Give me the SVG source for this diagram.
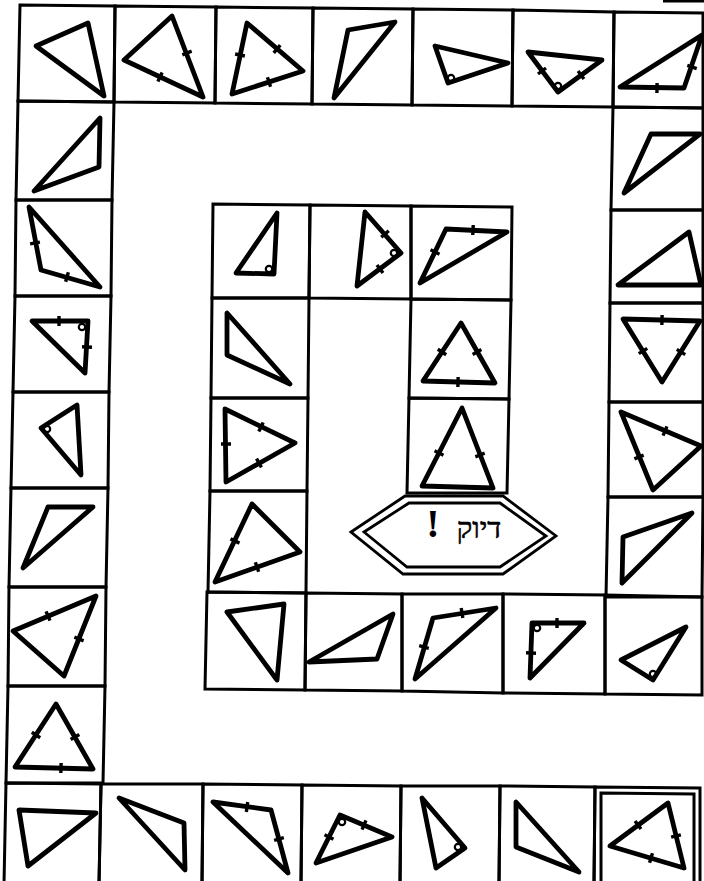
<svg xmlns="http://www.w3.org/2000/svg" width="704" height="881" viewBox="0 0 704 881">
<style>
.box{fill:none;stroke:#000;stroke-width:3;stroke-linejoin:miter}
.tri{fill:none;stroke:#000;stroke-width:4.8;stroke-linejoin:round}
.tk{fill:none;stroke:none;marker-mid:url(#tick)}
.ra{fill:none;stroke:#000;stroke-width:2.2}
.hex{fill:none;stroke:#000;stroke-width:2.8;stroke-linejoin:miter}
</style>
<defs>
<marker id="tick" markerUnits="userSpaceOnUse" orient="auto" markerWidth="12" markerHeight="12" refX="0" refY="0" overflow="visible">
<line x1="0" y1="-5" x2="0" y2="5" stroke="#000" stroke-width="3.4"/>
</marker>
</defs>
<rect x="0" y="0" width="704" height="881" fill="#fff"/>
<line x1="663" y1="1" x2="704" y2="1" stroke="#000" stroke-width="3"/>

<g id="outer-top">
<g id="T1"><polygon class="box" points="20,5 115,6 114,102 18,101"/><polygon class="tri" points="36,46 88,23 104,96"/></g>
<g id="T2"><polygon class="box" points="115,6 216,7 215,103 114,102"/><polygon class="tri" points="124,60 172,16 203,97"/>
<path class="tk" d="M172,16 L187,53 L203,97"/><path class="tk" d="M124,60 L160,77 L203,97"/></g>
<g id="T3"><polygon class="box" points="216,7 313,8 312,104 215,103"/><polygon class="tri" points="247,23 303,71 232,94"/>
<path class="tk" d="M247,23 L240,55 L232,94"/><path class="tk" d="M247,23 L277,49 L303,71"/><path class="tk" d="M303,71 L269,82 L232,94"/></g>
<g id="T4"><polygon class="box" points="313,8 413,9 412,105 312,104"/><polygon class="tri" points="348,30 395,22 334,98"/></g>
<g id="T5"><polygon class="box" points="413,9 513,10 512,106 412,105"/><polygon class="tri" points="435,46 508,63 448,83"/><circle class="ra" cx="451" cy="78" r="3.2"/></g>
<g id="T6"><polygon class="box" points="513,10 614,12 613,107 512,106"/><polygon class="tri" points="528,52 602,60 558,92"/><circle class="ra" cx="558" cy="86" r="3.2"/>
<path class="tk" d="M528,52 L542,71 L558,92"/><path class="tk" d="M602,60 L581,75 L558,92"/></g>
<g id="T7"><polygon class="box" points="614,12 703,13 703,108 613,107"/><polygon class="tri" points="620,87 702,35 684,88"/>
<path class="tk" d="M620,87 L657,88 L684,88"/><path class="tk" d="M702,35 L692,67 L684,88"/></g>
</g>

<g id="outer-left">
<g id="L2"><polygon class="box" points="18,101 114,102 112,200 16,200"/><polygon class="tri" points="100,118 99,167 34,191"/></g>
<g id="L3"><polygon class="box" points="16,200 112,200 111,296 15,296"/><polygon class="tri" points="29,207 41,270 100,287"/>
<path class="tk" d="M29,207 L35,243 L41,270"/><path class="tk" d="M41,270 L67,277 L100,287"/></g>
<g id="L4"><polygon class="box" points="15,296 111,296 109,392 13,392"/><polygon class="tri" points="32,321 88,321 85,373"/><circle class="ra" cx="82" cy="327" r="3.2"/>
<path class="tk" d="M32,321 L59,321 L88,321"/><path class="tk" d="M88,321 L87,347 L85,373"/></g>
<g id="L5"><polygon class="box" points="13,392 109,392 108,488 11,488"/><polygon class="tri" points="41,428 77,405 81,475"/><circle class="ra" cx="47" cy="429" r="3.2"/></g>
<g id="L6"><polygon class="box" points="11,488 108,488 106,587 9,587"/><polygon class="tri" points="48,507 93,507 23,568"/></g>
<g id="L7"><polygon class="box" points="9,587 106,587 105,686 8,686"/><polygon class="tri" points="13,631 96,596 64,676"/>
<path class="tk" d="M13,631 L48,616 L96,596"/><path class="tk" d="M96,596 L79,639 L64,676"/></g>
<g id="L8"><polygon class="box" points="8,686 105,686 103,783 6,783"/><polygon class="tri" points="56,704 93,769 15,767"/>
<path class="tk" d="M56,704 L36,735 L15,767"/><path class="tk" d="M56,704 L75,737 L93,769"/><path class="tk" d="M93,769 L61,768 L15,767"/></g>
</g>

<g id="outer-bottom">
<g id="B1"><polygon class="box" points="6,783 101,784 99,884 4,884"/><polygon class="tri" points="19,810 96,813 28,866"/></g>
<g id="B2"><polygon class="box" points="101,784 203,784 202,884 99,884"/><polygon class="tri" points="119,798 184,823 185,870"/></g>
<g id="B3"><polygon class="box" points="203,784 302,785 301,884 202,884"/><polygon class="tri" points="213,802 271,810 288,873"/>
<path class="tk" d="M213,802 L247,807 L271,810"/><path class="tk" d="M271,810 L279,839 L288,873"/></g>
<g id="B4"><polygon class="box" points="302,785 401,786 400,884 301,884"/><polygon class="tri" points="340,815 392,837 316,863"/><circle class="ra" cx="342" cy="822" r="3.2"/>
<path class="tk" d="M340,815 L329,837 L316,863"/><path class="tk" d="M340,815 L364,825 L392,837"/></g>
<g id="B5"><polygon class="box" points="401,786 500,786 499,884 400,884"/><polygon class="tri" points="422,798 465,848 436,868"/><circle class="ra" cx="458" cy="847" r="3.2"/></g>
<g id="B6"><polygon class="box" points="500,786 595,787 594,884 499,884"/><polygon class="tri" points="516,802 516,847 579,872"/></g>
<g id="B7"><polygon class="box" points="595,787 700,788 700,884 594,884"/><polygon class="box" points="601,793 694,794 694,884 601,884"/><polygon class="tri" points="610,846 668,803 684,868"/>
<path class="tk" d="M610,846 L638,825 L668,803"/><path class="tk" d="M668,803 L676,836 L684,868"/><path class="tk" d="M610,846 L651,858 L684,868"/></g>
</g>

<g id="outer-right">
<g id="R2"><polygon class="box" points="613,107 703,108 703,210 611,210"/><polygon class="tri" points="651,134 700,134 624,193"/></g>
<g id="R3"><polygon class="box" points="611,210 703,210 703,303 610,303"/><polygon class="tri" points="618,285 689,232 701,285"/></g>
<g id="R4"><polygon class="box" points="610,303 703,303 703,402 609,402"/><polygon class="tri" points="623,319 700,321 662,382"/>
<path class="tk" d="M623,319 L662,320 L700,321"/><path class="tk" d="M623,319 L643,351 L662,382"/><path class="tk" d="M700,321 L681,352 L662,382"/></g>
<g id="R5"><polygon class="box" points="609,402 703,402 703,497 608,497"/><polygon class="tri" points="621,412 701,446 653,490"/>
<path class="tk" d="M621,412 L665,431 L701,446"/><path class="tk" d="M621,412 L639,457 L653,490"/></g>
<g id="R6"><polygon class="box" points="608,497 703,497 702,597 606,597"/><polygon class="tri" points="623,537 692,513 622,583"/></g>
</g>

<g id="inner-bottom">
<g id="IB1"><polygon class="box" points="207,592 306,593 305,690 205,689"/><polygon class="tri" points="227,612 284,604 277,680"/></g>
<g id="IB2"><polygon class="box" points="306,593 402,594 402,691 305,690"/><polygon class="tri" points="309,662 393,614 377,659"/></g>
<g id="IB3"><polygon class="box" points="402,594 503,594 503,693 402,691"/><polygon class="tri" points="433,618 496,608 415,679"/>
<path class="tk" d="M433,618 L462,613 L496,608"/><path class="tk" d="M433,618 L424,647 L415,679"/></g>
<g id="IB4"><polygon class="box" points="503,594 605,595 605,694 503,693"/><polygon class="tri" points="532,623 584,623 530,678"/><circle class="ra" cx="537" cy="628" r="3.2"/>
<path class="tk" d="M532,623 L557,623 L584,623"/><path class="tk" d="M532,623 L531,653 L530,678"/></g>
<g id="IB5"><polygon class="box" points="605,595 702,597 702,695 605,694"/><polygon class="tri" points="621,660 686,627 653,680"/><circle class="ra" cx="653" cy="674" r="3.2"/></g>
</g>

<g id="inner-left">
<g id="IT1"><polygon class="box" points="213,204 310,205 309,298 212,298"/><polygon class="tri" points="277,213 274,274 236,273"/><circle class="ra" cx="269" cy="269" r="3.2"/></g>
<g id="IL2"><polygon class="box" points="212,298 309,298 308,398 211,398"/><polygon class="tri" points="227,313 227,355 290,384"/></g>
<g id="IL3"><polygon class="box" points="211,398 308,398 307,491 210,491"/><polygon class="tri" points="225,409 295,443 226,482"/>
<path class="tk" d="M225,409 L226,444 L226,482"/><path class="tk" d="M225,409 L261,427 L295,443"/><path class="tk" d="M295,443 L259,463 L226,482"/></g>
<g id="IL4"><polygon class="box" points="210,491 307,491 306,593 208,592"/><polygon class="tri" points="252,504 300,552 215,582"/>
<path class="tk" d="M252,504 L235,541 L215,582"/><path class="tk" d="M300,552 L257,567 L215,582"/></g>
</g>

<g id="inner-top">
<g id="IT2"><polygon class="box" points="310,205 411,206 411,299 309,298"/><polygon class="tri" points="365,212 401,253 357,286"/><circle class="ra" cx="394" cy="253" r="3.2"/>
<path class="tk" d="M365,212 L385,234 L401,253"/><path class="tk" d="M401,253 L380,269 L357,286"/></g>
<g id="IT3"><polygon class="box" points="411,206 512,207 511,300 411,299"/><polygon class="tri" points="446,229 507,232 420,283"/>
<path class="tk" d="M446,229 L473,230 L507,232"/><path class="tk" d="M446,229 L435,252 L420,283"/></g>
</g>

<g id="inner-right">
<g id="IR2"><polygon class="box" points="411,299 511,300 509,399 409,398"/><polygon class="tri" points="461,323 495,383 423,381"/>
<path class="tk" d="M461,323 L442,352 L423,381"/><path class="tk" d="M461,323 L477,352 L495,383"/><path class="tk" d="M495,383 L458,382 L423,381"/></g>
<g id="IR3"><polygon class="box" points="409,398 509,399 507,493 407,493"/><polygon class="tri" points="462,408 493,488 422,486"/>
<path class="tk" d="M462,408 L439,453 L422,486"/><path class="tk" d="M462,408 L480,455 L493,488"/></g>
</g>

<g id="finish">
<polygon class="hex" points="351,532 405,496 503,496 556,536 503,574 403,574"/>
<polygon class="hex" points="364,532 409,503 500,503 546,536 500,567 407,567"/>
<text x="433" y="537" text-anchor="middle" font-family="Liberation Serif, DejaVu Serif, serif" font-size="40" font-weight="bold">!</text>
<text x="479" y="538" text-anchor="middle" font-family="Liberation Serif, DejaVu Sans, serif" font-size="29" stroke="#000" stroke-width="0.6">דיוק</text>
</g>
<g id="connectors"/>
</svg>
